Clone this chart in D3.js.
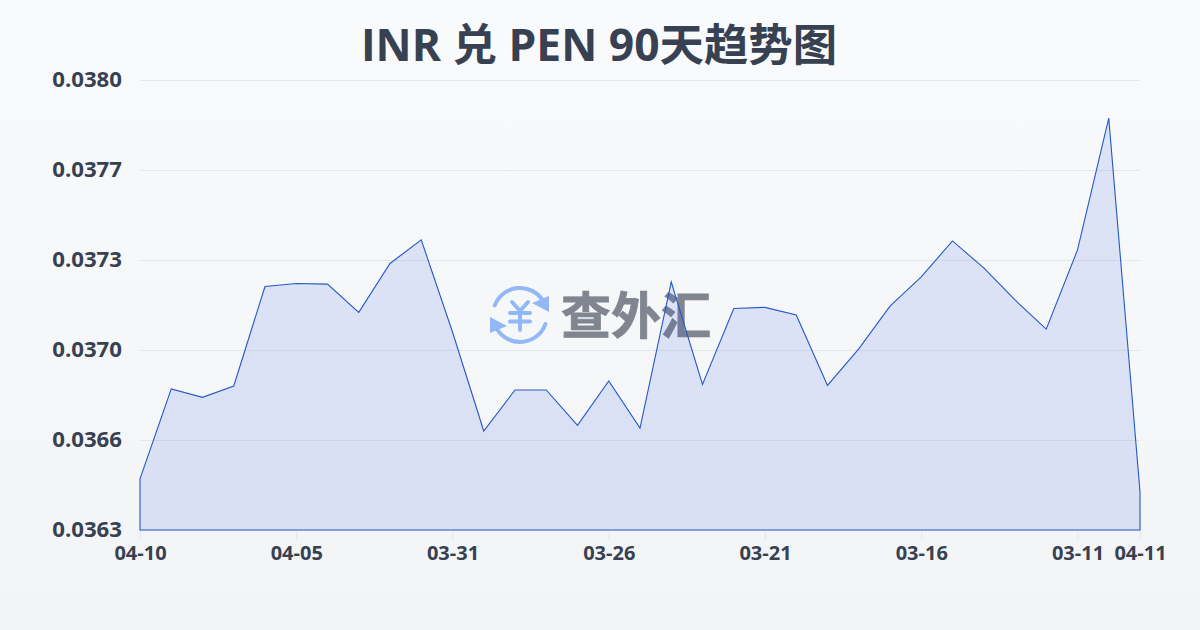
<!DOCTYPE html>
<html>
<head>
<meta charset="utf-8">
<script src="https://cdn.jsdelivr.net/npm/d3@7"></script>
<style>
  html, body { margin: 0; padding: 0; }
  #container { width: 1200px; height: 630px; }
  svg { display: block; }
</style>
</head>
<body>
<div id="container"></div>
<script>
/* DATA */
const dates = ["04-10","04-09","04-08","04-07","04-06","04-05","04-04","04-03","04-02","04-01","03-31",
  "03-30","03-29","03-28","03-27","03-26","03-25","03-24","03-23","03-22","03-21",
  "03-20","03-19","03-18","03-17","03-16","03-15","03-14","03-13","03-12","03-11","03-10","04-11"];
const rates = [0.036493,0.036833,0.036801,0.036844,0.037220,0.037231,0.037229,0.037122,0.037307,0.037396,0.037048,
  0.036674,0.036829,0.036829,0.036695,0.036863,0.036685,0.037237,0.036850,0.037137,0.037141,
  0.037112,0.036846,0.036984,0.037146,0.037256,0.037392,0.037290,0.037169,0.037059,0.037358,0.037856,0.036444];
const xTickLabels = ["04-10","04-05","03-31","03-26","03-21","03-16","03-11","04-11"];
const yTicks = [0.0363,0.03664,0.03698,0.03732,0.03766,0.0380];

const titleText = "INR 兑 PEN 90天趋势图";
const watermarkText = "查外汇";

const width = 1200,
  height = 630,
  margin = ({top: 80, right: 60, bottom: 100, left: 140});

const fonts = "'Open Sans', 'Noto Sans CJK SC', sans-serif";

const svg = d3.select("#container")
  .append("svg")
  .attr("width", width)
  .attr("height", height)
  .attr("viewBox", [0, 0, width, height]);

const defs = svg.append("defs");
const bg = defs.append("linearGradient")
  .attr("id", "bg")
  .attr("x1", 0).attr("y1", 0).attr("x2", 0).attr("y2", 1);
bg.append("stop").attr("offset", "0%").attr("stop-color", "#f9fafb");
bg.append("stop").attr("offset", "100%").attr("stop-color", "#f3f4f6");

svg.append("rect")
  .attr("width", width)
  .attr("height", height)
  .attr("fill", "url(#bg)");

const x = d3.scalePoint()
  .domain(dates)
  .range([margin.left, width - margin.right]);

const y = d3.scaleLinear()
  .domain([yTicks[0], yTicks[yTicks.length - 1]])
  .range([height - margin.bottom, margin.top]);

// title
svg.append("text")
  .attr("x", 599)
  .attr("y", 61)
  .attr("text-anchor", "middle")
  .attr("font-family", fonts)
  .attr("font-size", 44.4)
  .attr("font-weight", 700)
  .attr("fill", "#374151")
  .text(titleText);

// y axis + grid
svg.append("g")
  .attr("transform", `translate(${margin.left},0)`)
  .call(d3.axisLeft(y).tickValues(yTicks).tickFormat(d3.format(".4f")).tickSize(-(width - margin.left - margin.right)).tickPadding(18))
  .call(g => g.select(".domain").remove())
  .call(g => g.selectAll(".tick line").attr("stroke", "#e5e7eb"))
  .call(g => g.selectAll(".tick text")
    .attr("dy", "0.27em")
    .attr("font-family", fonts)
    .attr("font-size", 22.2)
    .attr("font-weight", 700)
    .attr("fill", "#374151"));

// x axis
svg.append("g")
  .attr("transform", `translate(0,${height - margin.bottom})`)
  .call(d3.axisBottom(x).tickValues(xTickLabels).tickSize(10).tickSizeOuter(0).tickPadding(6))
  .call(g => g.select(".domain").remove())
  .call(g => g.selectAll(".tick line").attr("stroke", "#e5e7eb"))
  .call(g => g.selectAll(".tick text")
    .attr("font-family", fonts)
    .attr("font-size", 20)
    .attr("font-weight", 700)
    .attr("fill", "#374151"));

// watermark, sits under the area
const mark = svg.append("g").attr("transform", "translate(520,315)");
const blue = "#93b8f8";
const arcGen = d3.arc().innerRadius(25).outerRadius(29).cornerRadius(2);
mark.append("path")
  .attr("d", arcGen({startAngle: -1.28, endAngle: 1.1}))
  .attr("fill", blue);
mark.append("path")
  .attr("d", arcGen({startAngle: 1.84, endAngle: 4.25}))
  .attr("fill", blue);
mark.append("path").attr("d", "M29,-19 L29,-3 L12,-12 Z").attr("fill", blue);
mark.append("path").attr("d", "M-30,2 L-30,18 L-13,11 Z").attr("fill", blue);
mark.append("path")
  .attr("d", "M-8,-13 L0,-4 L8,-13 M-10,-2 H10 M-10,6.5 H10 M0,-4 V15")
  .attr("fill", "none")
  .attr("stroke", blue)
  .attr("stroke-width", 4)
  .attr("stroke-linecap", "round")
  .attr("stroke-linejoin", "round");
svg.append("text")
  .attr("x", 636)
  .attr("y", 334)
  .attr("text-anchor", "middle")
  .attr("font-family", fonts)
  .attr("font-size", 50)
  .attr("font-weight", 700)
  .attr("fill", "#80858f")
  .attr("stroke", "#80858f")
  .attr("stroke-width", 0.8)
  .text(watermarkText);

// area and outline
const area = d3.area()
  .x((d, i) => x(dates[i]))
  .y0(y(yTicks[0]))
  .y1(d => y(d));

svg.append("path")
  .datum(rates)
  .attr("d", area)
  .attr("fill", "#2454e0")
  .attr("fill-opacity", 0.13)
  .attr("stroke", "#2458c8")
  .attr("stroke-width", 1.1);
</script>
</body>
</html>
